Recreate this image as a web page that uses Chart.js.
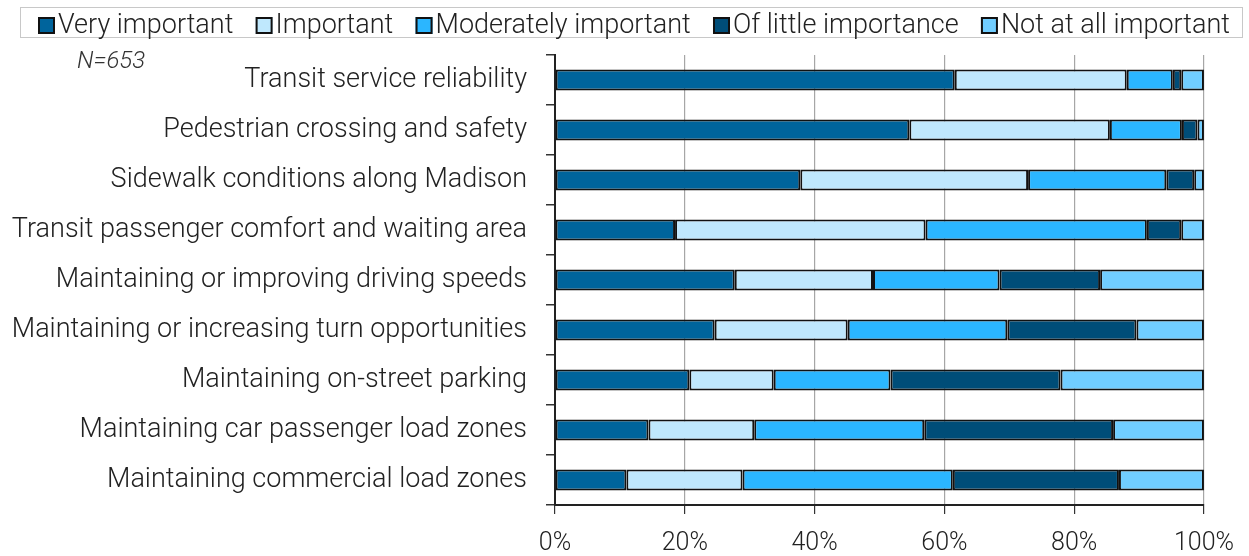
<!DOCTYPE html>
<html>

<head>
    <title>Importance of corridor priorities</title>
    <style>
        html,
        body {
            margin: 0;
            padding: 0;
            background-color: #fff;
        }

        #chart {
            display: block;
        }
    </style>
</head>

<body>
    <canvas id="chart" width="1249" height="556"></canvas>
    <script src="https://cdn.jsdelivr.net/npm/chart.js"></script>
    <script>
        const categories = [
            'Transit service reliability',
            'Pedestrian crossing and safety',
            'Sidewalk conditions along Madison',
            'Transit passenger comfort and waiting area',
            'Maintaining or improving driving speeds',
            'Maintaining or increasing turn opportunities',
            'Maintaining on-street parking',
            'Maintaining car passenger load zones',
            'Maintaining commercial load zones',
        ];

        const seriesNames = ['Very important', 'Important', 'Moderately important', 'Of little importance', 'Not at all important'];

        // percent of respondents, one entry per category (top to bottom)
        const veryImportant = [61.6, 54.6, 37.8, 18.5, 27.7, 24.6, 20.7, 14.4, 11.0];
        const important = [26.5, 30.9, 35.1, 38.6, 21.3, 20.5, 13.0, 16.3, 17.9];
        const moderatelyImportant = [7.1, 11.1, 21.3, 34.1, 19.5, 24.6, 18.0, 26.2, 32.4];
        const ofLittleImportance = [1.3, 2.4, 4.3, 5.3, 15.5, 19.9, 26.2, 29.1, 25.6];
        const notAtAllImportant = [3.5, 1.0, 1.5, 3.5, 16.0, 10.4, 22.1, 14.0, 13.1];

        const xTicks = [0, 20, 40, 60, 80, 100];
        const sampleNote = 'N=653';

        const colors = ['#00649C', '#BFE8FD', '#2BB6FF', '#004D78', '#70CDFF'];
        const font = 'Roboto';

        const seriesValues = [veryImportant, important, moderatelyImportant, ofLittleImportance, notAtAllImportant];

        // legend in a thin box across the top, plus the N note
        const boxLegend = {
            id: 'boxLegend',
            afterDraw(chart) {
                const ctx = chart.ctx;
                ctx.save();
                ctx.strokeStyle = '#c8c8c8';
                ctx.lineWidth = 1;
                ctx.strokeRect(20.5, 7.5, 1222, 30);

                ctx.font = `300 27px ${font}`;
                ctx.textBaseline = 'middle';
                const widths = seriesNames.map((n) => ctx.measureText(n).width);
                const used = widths.reduce((a, b) => a + b, 0) + seriesNames.length * 20;
                const gap = (1192 - used) / (seriesNames.length - 1);
                let x = 38;
                seriesNames.forEach((name, i) => {
                    ctx.fillStyle = colors[i];
                    ctx.fillRect(x, 17, 17, 17);
                    ctx.strokeStyle = '#111';
                    ctx.lineWidth = 2;
                    ctx.strokeRect(x + 1, 18, 15, 15);
                    ctx.fillStyle = '#222';
                    ctx.fillText(name, x + 20, 26);
                    x += 20 + widths[i] + gap;
                });

                ctx.font = `italic 300 24px ${font}`;
                ctx.fillStyle = '#333';
                ctx.textBaseline = 'alphabetic';
                ctx.fillText(sampleNote, 77, 68);
                ctx.restore();
            }
        };

        new Chart(document.getElementById('chart'), {
            type: 'bar',
            data: {
                labels: categories,
                datasets: seriesNames.map((name, i) => ({
                    label: name,
                    data: seriesValues[i],
                    backgroundColor: colors[i],
                    borderColor: '#111',
                    borderWidth: 2,
                    borderSkipped: false,
                    barPercentage: 0.42,
                    categoryPercentage: 1,
                })),
            },
            options: {
                indexAxis: 'y',
                responsive: false,
                animation: false,
                layout: {
                    padding: { top: 55, right: 45, left: 0, bottom: 0 }
                },
                plugins: {
                    legend: { display: false },
                    tooltip: { enabled: false },
                },
                scales: {
                    x: {
                        stacked: true,
                        min: 0,
                        max: 100,
                        afterBuildTicks: (scale) => {
                            scale.ticks = xTicks.map((v) => ({ value: v }));
                        },
                        ticks: {
                            callback: (v) => `${v}%`,
                            font: { family: font, size: 25, weight: 300 },
                            color: '#222',
                            padding: 15,
                            maxRotation: 0,
                        },
                        grid: {
                            color: '#a6a6a6',
                            lineWidth: 1.2,
                            tickColor: '#333',
                            tickLength: 9,
                        },
                        border: { color: '#222', width: 2 },
                        afterFit: (scale) => { scale.height = 51; },
                    },
                    y: {
                        stacked: true,
                        ticks: {
                            font: { family: font, size: 27, weight: 300 },
                            color: '#222',
                            padding: 19,
                        },
                        grid: {
                            offset: true,
                            drawOnChartArea: false,
                            tickColor: '#333',
                            lineWidth: 1.5,
                            tickLength: 9,
                        },
                        border: { color: '#222', width: 2 },
                        afterFit: (scale) => { scale.width = 555; },
                    },
                },
            },
            plugins: [boxLegend],
        });
    </script>
</body>

</html>
